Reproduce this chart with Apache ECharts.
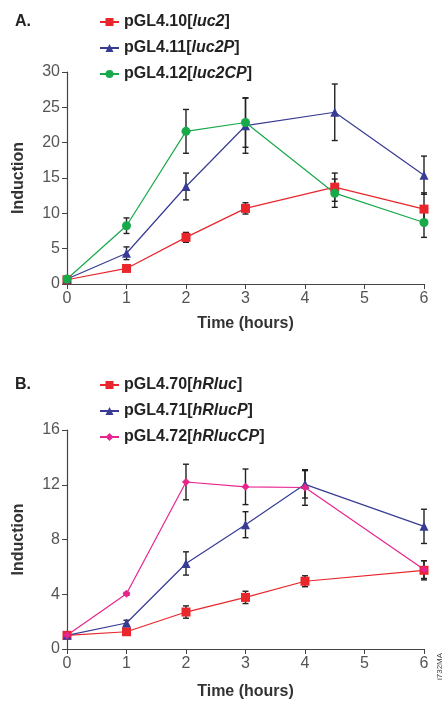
<!DOCTYPE html>
<html>
<head>
<meta charset="utf-8">
<script src="https://cdn.jsdelivr.net/npm/echarts@6/dist/echarts.min.js"></script>
<style>
  html, body { margin: 0; padding: 0; background: #fff; }
  #main { width: 447px; height: 701px; }
</style>
</head>
<body>
<div id="main"></div>
<script>
// panel A: firefly constructs
var hoursA = [0, 1, 2, 3, 4.5, 6];
var luc2 = [0.6, 2.2, 6.6, 10.7, 13.7, 10.6];
var luc2Err = [0, 0.2, 0.7, 0.8, 2.0, 2.3];
var luc2P = [0.7, 4.35, 13.8, 22.4, 24.3, 15.4];
var luc2PErr = [0, 0.9, 1.9, 3.9, 4.0, 2.7];
var luc2CP = [0.7, 8.25, 21.6, 22.85, 12.85, 8.7];
var luc2CPErr = [0, 1.1, 3.1, 3.5, 2.0, 2.1];

// panel B: Renilla constructs
var hoursB = [0, 1, 2, 3, 4, 6];
var hRluc = [1.0, 1.26, 2.7, 3.77, 4.95, 5.75];
var hRlucErr = [0, 0.1, 0.45, 0.45, 0.4, 0.7];
var hRlucP = [1.0, 1.9, 6.25, 9.08, 12.03, 8.96];
var hRlucPErr = [0, 0.2, 0.85, 0.95, 1.0, 1.25];
var hRlucCP = [1.0, 4.03, 12.2, 11.85, 11.8, 5.8];
var hRlucCPErr = [0, 0.1, 1.3, 1.3, 1.3, 0.65];

var xTicks = [0, 1, 2, 3, 4, 5, 6];
var yTicksA = [0, 5, 10, 15, 20, 25, 30];
var yTicksB = [0, 4, 8, 12, 16];

var RED = '#e8262b', BLUE = '#373b94', GREEN = '#17a94a', PINK = '#e8248e';
var BOLD = "'Liberation Sans', Arial, sans-serif";
var LIGHT = "'Liberation Sans', Arial, sans-serif";

function pairs(xs, ys) { return xs.map(function (x, i) { return [x, ys[i]]; }); }
function triples(xs, ys, es) { return xs.map(function (x, i) { return [x, ys[i], es[i]]; }); }

function lineSeries(name, xs, ys, color, symbol, size, idx) {
  return {
    name: name, type: 'line', data: pairs(xs, ys),
    xAxisIndex: idx, yAxisIndex: idx,
    symbol: symbol, symbolSize: size,
    itemStyle: { color: color },
    lineStyle: { color: color, width: 1.2 },
    z: 4
  };
}

function errorSeries(xs, ys, es, idx) {
  return {
    type: 'custom', xAxisIndex: idx, yAxisIndex: idx,
    data: triples(xs, ys, es),
    encode: { x: 0, y: 1 },
    z: 3, silent: true,
    renderItem: function (params, api) {
      var x = api.value(0), y = api.value(1), e = api.value(2);
      if (!e) return null;
      var hi = api.coord([x, y + e]);
      var lo = api.coord([x, y - e]);
      var st = { stroke: '#222', lineWidth: 1.4 };
      var w = 3;
      return {
        type: 'group',
        children: [
          { type: 'line', shape: { x1: hi[0], y1: hi[1], x2: lo[0], y2: lo[1] }, style: st },
          { type: 'line', shape: { x1: hi[0] - w, y1: hi[1], x2: hi[0] + w, y2: hi[1] }, style: st },
          { type: 'line', shape: { x1: lo[0] - w, y1: lo[1], x2: lo[0] + w, y2: lo[1] }, style: st }
        ]
      };
    }
  };
}

function xAxisCfg(idx, gap) {
  return {
    type: 'value', gridIndex: idx, min: 0, max: 6, interval: 1,
    name: 'Time (hours)', nameLocation: 'middle', nameGap: gap,
    nameTextStyle: { fontFamily: BOLD, fontWeight: 'bold', fontSize: 16, color: '#333' },
    axisLine: { lineStyle: { color: '#444', width: 1.2 } },
    axisTick: { show: true, length: 5, lineStyle: { color: '#444' } },
    axisLabel: { fontFamily: LIGHT, fontSize: 16, color: '#555', margin: 7,
      formatter: function (v) { return xTicks.indexOf(v) >= 0 ? String(v) : ''; } },
    splitLine: { show: false }
  };
}

function yAxisCfg(idx, max, step, ticks) {
  return {
    type: 'value', gridIndex: idx, min: 0, max: max, interval: step,
    name: 'Induction', nameLocation: 'middle', nameGap: 40, nameRotate: 90,
    nameTextStyle: { fontFamily: BOLD, fontWeight: 'bold', fontSize: 16, color: '#333' },
    axisLine: { show: true, lineStyle: { color: '#444', width: 1.2 } },
    axisTick: { show: true, length: 5, lineStyle: { color: '#444' } },
    axisLabel: { fontFamily: LIGHT, fontSize: 16, color: '#555', margin: 7,
      formatter: function (v) { return ticks.indexOf(v) >= 0 ? String(v) : ''; } },
    splitLine: { show: false }
  };
}

function legendCfg(names, top) {
  return {
    data: names, orient: 'vertical', left: 94, top: top,
    itemWidth: 19, itemHeight: 10, itemGap: 10,
    formatter: function (n) {
      var m = n.match(/^(.*)\[(.*)\]$/);
      return '{b|' + m[1] + '[}{i|' + m[2] + '}{b|]}';
    },
    textStyle: {
      rich: {
        b: { fontFamily: BOLD, fontWeight: 'bold', fontSize: 16, color: '#222' },
        i: { fontFamily: BOLD, fontWeight: 'bold', fontStyle: 'italic', fontSize: 16, color: '#222' }
      }
    }
  };
}

var chart = echarts.init(document.getElementById('main'), null, { renderer: 'canvas' });
chart.setOption({
  backgroundColor: '#fff',
  animation: false,
  title: [
    { text: 'A.', left: 10, top: 9, textStyle: { fontFamily: BOLD, fontWeight: 'bold', fontSize: 16, color: '#222' } },
    { text: 'B.', left: 10, top: 372, textStyle: { fontFamily: BOLD, fontWeight: 'bold', fontSize: 16, color: '#222' } }
  ],
  legend: [
    legendCfg(['pGL4.10[luc2]', 'pGL4.11[luc2P]', 'pGL4.12[luc2CP]'], 9),
    legendCfg(['pGL4.70[hRluc]', 'pGL4.71[hRlucP]', 'pGL4.72[hRlucCP]'], 372)
  ],
  grid: [
    { left: 67, right: 23, top: 72, bottom: 417 },
    { left: 67, right: 23, top: 430, bottom: 50 }
  ],
  xAxis: [xAxisCfg(0, 32), xAxisCfg(1, 35)],
  yAxis: [yAxisCfg(0, 30, 5, yTicksA), yAxisCfg(1, 16, 4, yTicksB)],
  graphic: [
    { type: 'text', x: 436, y: 680, rotation: Math.PI / 2,
      style: { text: 'i732MA', fontFamily: BOLD, fontSize: 8, fill: '#444' } }
  ],
  series: [
    lineSeries('pGL4.10[luc2]', hoursA, luc2, RED, 'rect', 9, 0),
    lineSeries('pGL4.11[luc2P]', hoursA, luc2P, BLUE, 'triangle', 9, 0),
    lineSeries('pGL4.12[luc2CP]', hoursA, luc2CP, GREEN, 'circle', 9, 0),
    errorSeries(hoursA, luc2, luc2Err, 0),
    errorSeries(hoursA, luc2P, luc2PErr, 0),
    errorSeries(hoursA, luc2CP, luc2CPErr, 0),
    lineSeries('pGL4.70[hRluc]', hoursB, hRluc, RED, 'rect', 9, 1),
    lineSeries('pGL4.71[hRlucP]', hoursB, hRlucP, BLUE, 'triangle', 9, 1),
    lineSeries('pGL4.72[hRlucCP]', hoursB, hRlucCP, PINK, 'diamond', 8, 1),
    errorSeries(hoursB, hRluc, hRlucErr, 1),
    errorSeries(hoursB, hRlucP, hRlucPErr, 1),
    errorSeries(hoursB, hRlucCP, hRlucCPErr, 1)
  ]
});
</script>
</body>
</html>
